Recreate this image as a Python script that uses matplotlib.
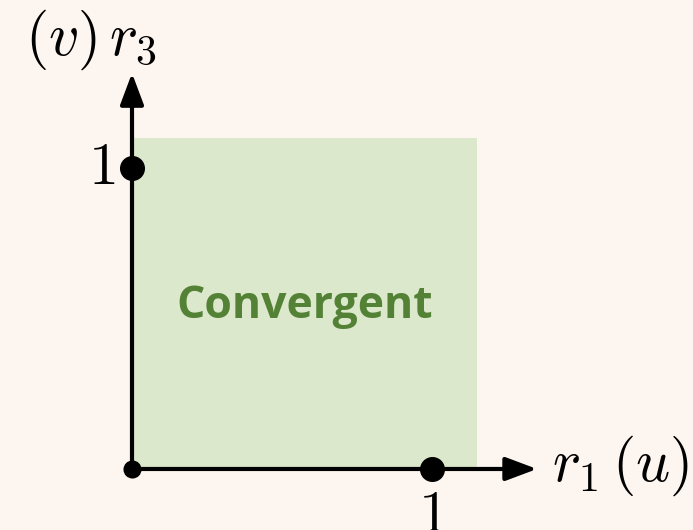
import matplotlib
matplotlib.use("Agg")
import matplotlib.pyplot as plt
from matplotlib.patches import Rectangle, FancyArrowPatch

plt.rcParams['mathtext.fontset'] = 'cm'

# region and marked points (unit coordinates)
region_x = [0.0, 1.15]
region_y = [0.0, 1.1]
tick_x = [1.0]
tick_y = [1.0]
x_label = r"$r_1\,(u)$"
y_label = r"$(v)\,r_3$"
region_text = "Convergent"

bg = "#fdf5f0"
fig = plt.figure(figsize=(6.93, 5.30), dpi=100, facecolor=bg)
ax = fig.add_axes([0, 0, 1, 1])
ax.set_facecolor(bg)
ax.set_xlim(-0.44, 1.87)
ax.set_ylim(-0.2027, 1.558)
ax.axis("off")

ax.add_patch(Rectangle((region_x[0], region_y[0]), region_x[1] - region_x[0],
                       region_y[1] - region_y[0], facecolor="#dce8cb", edgecolor="none"))

# axes arrows
arrow_kw = dict(arrowstyle="-|>,head_length=1.6,head_width=0.6", color="black",
                lw=3, shrinkA=0, shrinkB=0, mutation_scale=12)
ax.add_patch(FancyArrowPatch((0, 0), (1.35, 0), **arrow_kw))
ax.add_patch(FancyArrowPatch((0, 0), (0, 1.315), **arrow_kw))

ax.plot(tick_x, [0] * len(tick_x), "o", color="black", ms=17, zorder=5)
ax.plot([0] * len(tick_y), tick_y, "o", color="black", ms=17, zorder=5)
ax.plot([0], [0], "o", color="black", ms=12, zorder=5)

for t in tick_x:
    ax.text(t, -0.055, "$1$", fontsize=43, ha="center", va="top")
for t in tick_y:
    ax.text(-0.055, t, "$1$", fontsize=43, ha="right", va="center")

ax.text(1.40, 0.01, x_label, fontsize=43, ha="left", va="center")
ax.text(-0.135, 1.32, y_label, fontsize=43, ha="center", va="bottom")

ax.text(0.575, 0.54, region_text, fontsize=32, fontweight="bold", color="#538135",
        family="Open Sans", ha="center", va="center")

fig.savefig("out.png", dpi=100, facecolor=bg)
